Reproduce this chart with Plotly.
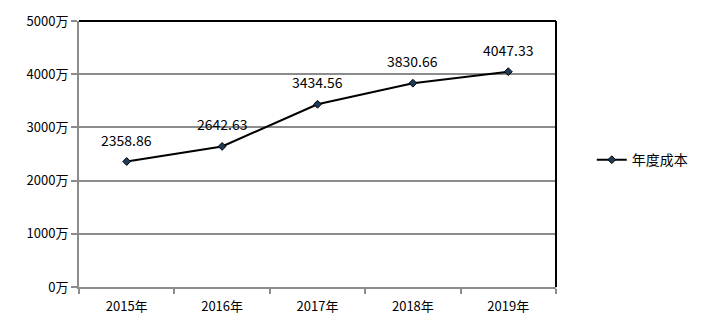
import plotly.graph_objects as go

years = ["2015年", "2016年", "2017年", "2018年", "2019年"]
costs = [2358.86, 2642.63, 3434.56, 3830.66, 4047.33]
series_name = "年度成本"
y_ticks = [0, 1000, 2000, 3000, 4000, 5000]

FONT = "Noto Sans CJK SC, DejaVu Sans, sans-serif"

fig = go.Figure()
fig.add_trace(go.Scatter(
    x=years, y=costs, name=series_name,
    mode="lines+markers",
    line=dict(color="#000000", width=2),
    marker=dict(symbol="diamond", size=6, color="#1f3b5a", line=dict(color="#000000", width=1)),
    cliponaxis=False,
))

annotations = [
    dict(x=yr, y=v, xref="x", yref="y", text=f"{v:.2f}", showarrow=False,
         yshift=22, font=dict(size=14, color="#000000", family=FONT))
    for yr, v in zip(years, costs)
]

fig.update_layout(
    width=711, height=320,
    margin=dict(l=79, r=155, t=21, b=33),
    paper_bgcolor="white", plot_bgcolor="white",
    font=dict(family=FONT, size=13, color="#000000"),
    showlegend=True,
    legend=dict(x=1.075, y=0.477, xanchor="left", yanchor="middle",
                font=dict(size=14, family=FONT), bgcolor="rgba(0,0,0,0)"),
    xaxis=dict(type="category", range=[-0.5, 4.5], tickson="boundaries", ticks="outside", ticklen=5,
               tickcolor="#8c8c8c", tickwidth=2, showline=True, linecolor="#8c8c8c",
               linewidth=2, showgrid=False, tickfont=dict(size=13), zeroline=False,
               ticklabelstandoff=6, automargin=False),
    yaxis=dict(range=[0, 5000], tickvals=y_ticks, ticktext=[f"{v}万" for v in y_ticks],
               ticks="outside", ticklen=6, tickcolor="#8c8c8c", tickwidth=2,
               showline=True, linecolor="#8c8c8c", linewidth=2,
               showgrid=True, gridcolor="#8c8c8c", gridwidth=2, zeroline=False,
               tickfont=dict(size=13), automargin=False),
    annotations=annotations,
    shapes=[
        dict(type="line", xref="paper", yref="paper", x0=0, x1=1, y0=1, y1=1,
             line=dict(color="#000000", width=2)),
        dict(type="line", xref="paper", yref="paper", x0=1, x1=1, y0=0, y1=1,
             line=dict(color="#000000", width=2)),
    ],
)

fig.write_html("out.html")
